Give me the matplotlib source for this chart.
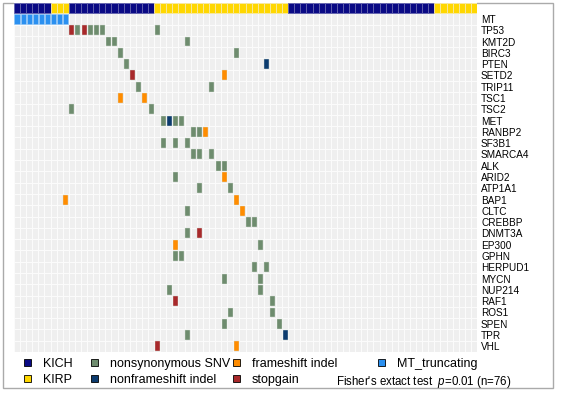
import matplotlib
matplotlib.use("Agg")
import matplotlib.pyplot as plt
import numpy as np
from matplotlib.colors import ListedColormap
from matplotlib.patches import Rectangle

plt.rcParams['font.family'] = ['Liberation Sans', 'DejaVu Sans']
plt.rcParams['mathtext.fontset'] = 'custom'
plt.rcParams['mathtext.it'] = 'Liberation Sans:italic'
plt.rcParams['mathtext.rm'] = 'Liberation Sans'

# samples in plotted order (n=76)
sample_type = (['KICH'] * 6 + ['KIRP'] * 3 + ['KICH'] * 14 + ['KIRP'] * 22
               + ['KICH'] * 24 + ['KIRP'] * 7)
mt_truncating = [0, 1, 2, 3, 4, 5, 6, 7, 8]

genes = ['TP53', 'KMT2D', 'BIRC3', 'PTEN', 'SETD2', 'TRIP11', 'TSC1', 'TSC2',
         'MET', 'RANBP2', 'SF3B1', 'SMARCA4', 'ALK', 'ARID2', 'ATP1A1', 'BAP1',
         'CLTC', 'CREBBP', 'DNMT3A', 'EP300', 'GPHN', 'HERPUD1', 'MYCN',
         'NUP214', 'RAF1', 'ROS1', 'SPEN', 'TPR', 'VHL']

# (gene, sample index)
snv = [('TP53', 10), ('TP53', 12), ('TP53', 13), ('TP53', 14), ('TP53', 23),
       ('KMT2D', 15), ('KMT2D', 16), ('KMT2D', 28),
       ('BIRC3', 17), ('BIRC3', 36),
       ('PTEN', 18),
       ('TRIP11', 20), ('TRIP11', 32),
       ('TSC2', 9), ('TSC2', 22),
       ('MET', 24), ('MET', 26), ('MET', 27),
       ('RANBP2', 29), ('RANBP2', 30),
       ('SF3B1', 24), ('SF3B1', 26), ('SF3B1', 28),
       ('SMARCA4', 29), ('SMARCA4', 30), ('SMARCA4', 32),
       ('ALK', 33), ('ALK', 34),
       ('ARID2', 26),
       ('ATP1A1', 30), ('ATP1A1', 35),
       ('CLTC', 28),
       ('CREBBP', 38), ('CREBBP', 39),
       ('DNMT3A', 28),
       ('EP300', 40),
       ('GPHN', 26), ('GPHN', 27),
       ('HERPUD1', 39), ('HERPUD1', 41),
       ('MYCN', 34), ('MYCN', 40),
       ('NUP214', 25), ('NUP214', 40),
       ('RAF1', 42),
       ('ROS1', 35), ('ROS1', 42),
       ('SPEN', 34), ('SPEN', 43),
       ('TPR', 28)]
nonframeshift = [('PTEN', 41), ('MET', 25), ('TPR', 44)]
frameshift = [('SETD2', 34), ('TSC1', 17), ('TSC1', 21), ('RANBP2', 31),
              ('ARID2', 34), ('BAP1', 8), ('BAP1', 36), ('CLTC', 37),
              ('EP300', 26), ('VHL', 36)]
stopgain = [('TP53', 9), ('TP53', 11), ('SETD2', 19), ('DNMT3A', 30),
            ('RAF1', 26), ('VHL', 23)]

type_colors = {'KICH': '#0a0a85', 'KIRP': '#ffd700'}
type_edges = {'KICH': '#6464ae', 'KIRP': '#f6e8a6'}
mut_colors = {'nonsynonymous SNV': '#6e8c6e', 'nonframeshift indel': '#0c3b6e',
              'frameshift indel': '#ff8c00', 'stopgain': '#a8292b'}
mt_color = '#2b90f0'

W, H = 561, 394
fig = plt.figure(figsize=(W / 100, H / 100), dpi=100)

# background axes for the frame and legend (pixel coordinates)
lax = fig.add_axes([0, 0, 1, 1], zorder=-1)
lax.set_xlim(0, W)
lax.set_ylim(H, 0)
lax.axis('off')
lax.add_patch(Rectangle((3.5, 3), 549.5, 385, fill=False, ec='#aaaaaa', lw=1.0))

ax = fig.add_axes([14 / W, 1 - 352 / H, (477 - 14) / W, (352 - 2) / H])
n = len(sample_type)
rows = ['MT'] + genes          # row 0 is the cancer type bar
ax.set_xlim(-0.5, n - 0.5)
ax.set_ylim(len(rows) + 0.5, -0.5)

# grey background cells
bg = np.zeros((len(rows), n))
ax.pcolormesh(np.arange(n + 1) - 0.5, np.arange(len(rows) + 1) + 0.5, bg,
              cmap=ListedColormap(['#efefef']), edgecolors='#fbfbfb', linewidth=0.6)

# cancer type row
ax.bar(np.arange(n), 0.9, bottom=-0.45, width=1.0,
       color=[type_colors[t] for t in sample_type],
       edgecolor=[type_edges[t] for t in sample_type], linewidth=0.6)

# MT truncating row
ax.bar(mt_truncating, 0.9, bottom=1 - 0.45, width=0.86, color=mt_color,
       edgecolor='#8cc4f7', linewidth=0.4)

row_of = {g: i + 1 for i, g in enumerate(rows)}
for label, muts in [('nonsynonymous SNV', snv), ('nonframeshift indel', nonframeshift),
                    ('frameshift indel', frameshift), ('stopgain', stopgain)]:
    xs = [s for g, s in muts]
    ys = np.array([row_of[g] for g, s in muts])
    ax.bar(xs, 0.88, bottom=ys - 0.44, width=0.82, color=mut_colors[label],
           edgecolor='#d8e0d8', linewidth=0.3)

ax.set_xticks([])
ax.set_yticks(np.arange(1, len(rows) + 1))
ax.set_yticklabels(rows)
ax.yaxis.tick_right()
ax.tick_params(axis='y', length=0, pad=2.9, labelsize=7.2)
for s in ax.spines.values():
    s.set_visible(False)

# legend
legend_cols = [
    (24, [('KICH', type_colors['KICH']), ('KIRP', type_colors['KIRP'])]),
    (91, [('nonsynonymous SNV', mut_colors['nonsynonymous SNV']),
          ('nonframeshift indel', mut_colors['nonframeshift indel'])]),
    (233, [('frameshift indel', mut_colors['frameshift indel']),
           ('stopgain', mut_colors['stopgain'])]),
    (378, [('MT_truncating', mt_color)]),
]
row_y = [362.7, 378.3]
for x0, items in legend_cols:
    for (lab, col), yc in zip(items, row_y):
        lax.add_patch(Rectangle((x0, yc - 3.4), 6.8, 6.8, fc=col, ec='black', lw=0.6))
        lax.text(x0 + 19, yc + 4.5, lab, fontsize=9, va='baseline', ha='left')

lax.text(336.5, 385, "Fisher's extact test  $p$=0.01 (n=76)", fontsize=8.3,
         va='baseline', ha='left')

fig.savefig('out.png', dpi=100)
